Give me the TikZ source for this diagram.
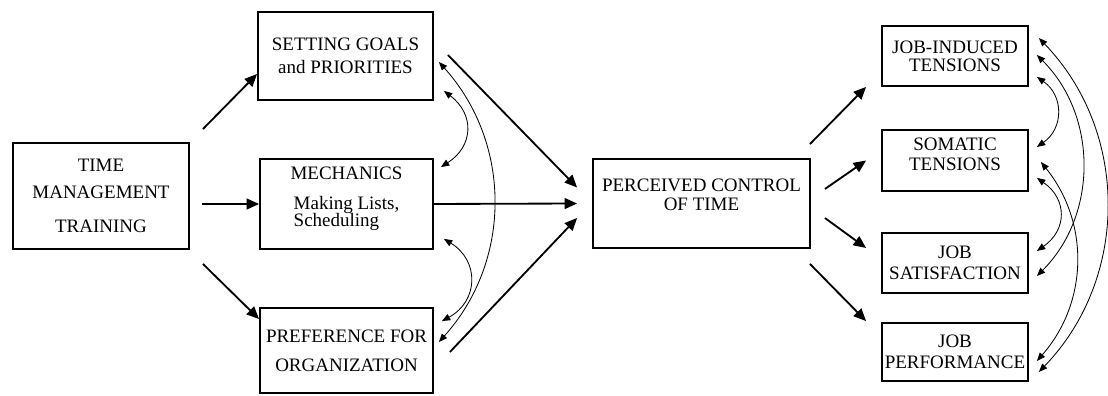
\documentclass[tikz,border=0pt]{standalone}
\usepackage{fontspec}
\setmainfont{Liberation Serif}
\usetikzlibrary{arrows.meta,calc}
\begin{document}
\begin{tikzpicture}[x=0.6pt,y=-0.6pt,
  box/.style={draw,line width=1.1pt,inner sep=1pt,align=center,font=\fontsize{11.4}{12.5}\selectfont},
  arr/.style={line width=1.1pt,-{Triangle[length=7.5pt,width=6.5pt]}},
  dbl/.style={line width=0.5pt,{Triangle[length=5pt,width=4pt]}-{Triangle[length=5pt,width=4pt]}}]
\useasboundingbox (0,0) rectangle (1108,396);
% boxes
\node[box,minimum width=105.6pt,minimum height=63.6pt] (time) at (101,196) {TIME\\[4pt]MANAGEMENT\\[8pt]TRAINING};
\node[box,minimum width=105pt,minimum height=52.8pt] (set) at (345.5,56) {SETTING GOALS\\[1pt]and PRIORITIES};
\node[box,minimum width=103.8pt,minimum height=54pt] (mech) at (346.5,204) {MECHANICS\\[5pt]Making Lists,\\[-2pt]\rlap{Scheduling}\phantom{Making Lists,}\\[-4pt]\mbox{}};
\node[box,minimum width=103.8pt,minimum height=51pt] (pref) at (346.5,350.5) {PREFERENCE FOR\\[5pt]ORGANIZATION};
\node[box,minimum width=130.2pt,minimum height=53.4pt] (perc) at (701.5,203.5) {PERCEIVED CONTROL\\[-1pt]OF TIME\\[-2pt]\mbox{}};
\node[box,minimum width=87.6pt,minimum height=36pt] (ji) at (955,56) {JOB-INDUCED\\[-1.5pt]TENSIONS};
\node[box,minimum width=87.6pt,minimum height=36.6pt] (som) at (955,160.5) {SOMATIC\\TENSIONS\\[-5pt]\mbox{}};
\node[box,minimum width=87.6pt,minimum height=36pt] (sat) at (955,263) {JOB\\[0pt]SATISFACTION};
\node[box,minimum width=87.6pt,minimum height=34.8pt] (perf) at (955,352) {JOB\\[0pt]PERFORMANCE};
% paths
\draw[arr] ($(time.north east)+(13,-13)$) -- ($(set.west)+(0,18)$);
\draw[arr] ($(time.east)+(12,8)$) -- (mech.west);
\draw[arr] ($(time.south east)+(13,14)$) -- ($(pref.north west)+(0,12)$);
\draw[arr] ($(set.east)+(14,-1)$) -- ($(perc.west)+(-15,-16)$);
\draw[arr] (mech.east) -- ($(perc.west)+(-15,0)$);
\draw[arr] ($(pref.east)+(16,1.5)$) -- ($(perc.west)+(-15,14.5)$);
\draw[arr] ($(perc.north east)+(-1,-14)$) -- ($(ji.south west)+(-15,0)$);
\draw[arr] ($(perc.east)+(14,-14.5)$) -- ($(som.west)+(-15,0)$);
\draw[arr] ($(perc.east)+(14,14.5)$) -- ($(sat.west)+(-15,-15)$);
\draw[arr] ($(perc.south east)+(-1,15)$) -- ($(perf.north west)+(-15,-1)$);
% correlations
\draw[dbl] ($(set.south east)+(10,-10)$) to[bend left=55,looseness=1.3] ($(mech.north east)+(7,9)$);
\draw[dbl] ($(mech.south east)+(10,-11)$) to[bend left=60,looseness=1.3] ($(pref.north east)+(8,14)$);
\draw[dbl] ($(set.east)+(5,6)$) to[bend left=42] ($(pref.east)+(5,-8.5)$);
\draw[dbl] ($(ji.south east)+(8,-10)$) to[bend left=55,looseness=1.2] ($(som.east)+(8,-13.5)$);
\draw[dbl] ($(som.south east)+(8,-14)$) to[bend left=55,looseness=1.3] ($(sat.east)+(8,-12)$);
\draw[dbl] ($(ji.east)+(8,-1)$) to[bend left=45] ($(sat.east)+(8,13)$);
\draw[dbl] ($(som.east)+(12,1.5)$) to[bend left=40] ($(perf.east)+(8,9)$);
\draw[dbl] ($(ji.north east)+(10,13)$) to[bend left=44] ($(perf.south east)+(10,-10)$);
\end{tikzpicture}
\end{document}
